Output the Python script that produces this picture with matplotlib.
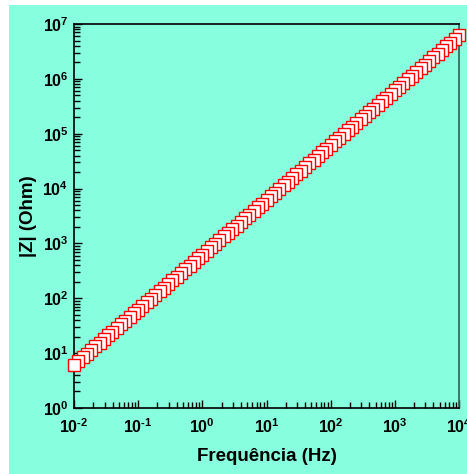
import math
import matplotlib
matplotlib.use('agg')
import matplotlib.pyplot as plt
from matplotlib.patches import Rectangle
from matplotlib.ticker import LogLocator, FuncFormatter, NullFormatter

# impedance sweep, high to low frequency
freq_hz = [
    10000, 8577, 7356, 6310, 5412, 4642, 3981, 3415, 2929, 2512, 2154, 1848, 1585, 1359, 1166,
    1000, 857.7, 735.6, 631.0, 541.2, 464.2, 398.1, 341.5, 292.9, 251.2, 215.4, 184.8, 158.5, 135.9, 116.6,
    100, 85.77, 73.56, 63.10, 54.12, 46.42, 39.81, 34.15, 29.29, 25.12, 21.54, 18.48, 15.85, 13.59, 11.66,
    10, 8.577, 7.356, 6.310, 5.412, 4.642, 3.981, 3.415, 2.929, 2.512, 2.154, 1.848, 1.585, 1.359, 1.166,
    1, 0.8577, 0.7356, 0.6310, 0.5412, 0.4642, 0.3981, 0.3415, 0.2929, 0.2512, 0.2154, 0.1848, 0.1585, 0.1359, 0.1166,
    0.1, 0.08577, 0.07356, 0.06310, 0.05412, 0.04642, 0.03981, 0.03415, 0.02929, 0.02512, 0.02154, 0.01848, 0.01585, 0.01359, 0.01166,
    0.01]
z_ohm = [
    6.20e6, 5.32e6, 4.56e6, 3.91e6, 3.36e6, 2.88e6, 2.47e6, 2.12e6, 1.82e6, 1.56e6, 1.34e6, 1.15e6, 9.83e5, 8.43e5, 7.23e5,
    6.20e5, 5.32e5, 4.56e5, 3.91e5, 3.36e5, 2.88e5, 2.47e5, 2.12e5, 1.82e5, 1.56e5, 1.34e5, 1.15e5, 9.83e4, 8.43e4, 7.23e4,
    6.20e4, 5.32e4, 4.56e4, 3.91e4, 3.36e4, 2.88e4, 2.47e4, 2.12e4, 1.82e4, 1.56e4, 1.34e4, 1.15e4, 9.83e3, 8.43e3, 7.23e3,
    6.20e3, 5.32e3, 4.56e3, 3.91e3, 3.36e3, 2.88e3, 2.47e3, 2.12e3, 1.82e3, 1.56e3, 1.34e3, 1.15e3, 983, 843, 723,
    620, 532, 456, 391, 336, 288, 247, 212, 182, 156, 134, 115, 98.3, 84.3, 72.3,
    62.0, 53.2, 45.6, 39.1, 33.6, 28.8, 24.7, 21.2, 18.2, 15.6, 13.4, 11.5, 9.83, 8.43, 7.23,
    6.20]

bg = '#87FFDE'
plt.rcParams['font.family'] = ['Liberation Sans', 'DejaVu Sans']
plt.rcParams['mathtext.fontset'] = 'custom'
plt.rcParams['mathtext.rm'] = 'Liberation Sans:bold'
plt.rcParams['mathtext.bf'] = 'Liberation Sans:bold'
plt.rcParams['mathtext.it'] = 'Liberation Sans:bold'

fig = plt.figure(figsize=(4.67, 4.74), dpi=100)
fig.patch.set_facecolor('white')
fig.patches.append(Rectangle((9/467, 0), 1 - 9/467, 1 - 5/474, transform=fig.transFigure,
                             facecolor=bg, edgecolor='none', zorder=-5))

ax = fig.add_axes([74/467, 1 - 408/474, 385/467, 384/474])
ax.set_facecolor(bg)
ax.plot(freq_hz, z_ohm, 's', ms=9.3, mfc='white', mec='red', mew=1.0,
        clip_on=False, zorder=5)

ax.set_xscale('log')
ax.set_yscale('log')
ax.set_xlim(1e-2, 1e4)
ax.set_ylim(1e0, 1e7)

def fmt(v, pos):
    e = int(round(math.log10(v)))
    s = ('\u2010%d' % -e) if e < 0 else '%d' % e
    return r'$\mathbf{10^{%s}}$' % s

for a in (ax.xaxis, ax.yaxis):
    a.set_major_locator(LogLocator(base=10, numticks=20))
    a.set_minor_locator(LogLocator(base=10, subs=range(2, 10), numticks=20))
    a.set_major_formatter(FuncFormatter(fmt))
    a.set_minor_formatter(NullFormatter())

ax.tick_params(which='both', direction='in', top=False, right=False, width=1.0,
               labelsize=11.5)
ax.tick_params(which='major', length=6)
ax.tick_params(which='minor', length=4)
ax.tick_params(axis='x', pad=7)
ax.tick_params(axis='y', pad=4)

for s in ax.spines.values():
    s.set_linewidth(1.2)
    s.set_color('black')
ax.spines['right'].set_color('#2f5f55')

ax.set_xlabel('Frequência (Hz)', fontsize=13.5, fontweight='bold', labelpad=8)
ax.set_ylabel('|Z| (Ohm)', fontsize=13.5, fontweight='bold', labelpad=4)

fig.savefig('out.png', dpi=100, facecolor=fig.get_facecolor())
